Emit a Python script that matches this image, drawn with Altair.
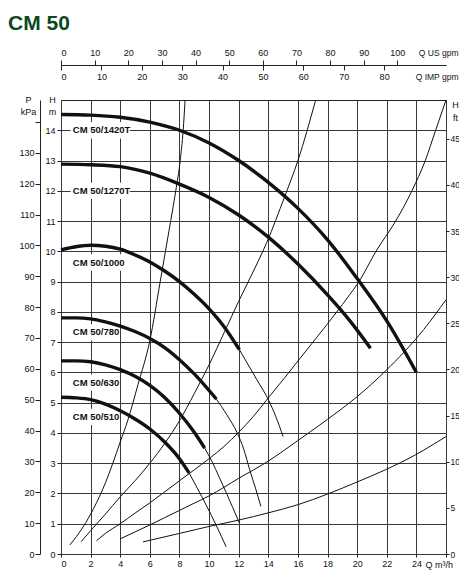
import altair as alt
import pandas as pd

FONT = "Liberation Sans, Arial, sans-serif"
INK = "#111111"
GRID = "#3a3a3a"

# ---------------- data (Q in m3/h, H in m) ----------------
q_1420 = [0, 2, 4, 6, 8, 10, 12, 14, 16, 18, 20, 22, 24]
h_1420 = [14.52, 14.5, 14.43, 14.27, 14.0, 13.58, 13.0, 12.28, 11.42, 10.38, 9.1, 7.7, 6.0]

q_1270 = [0, 2, 4, 6, 8, 10, 12, 14, 16, 18, 19.5, 20.9]
h_1270 = [12.88, 12.86, 12.8, 12.58, 12.22, 11.78, 11.2, 10.47, 9.58, 8.56, 7.71, 6.8]

q_1000 = [0, 1, 2, 3, 4, 5, 6, 7, 8, 9, 10, 11, 12.05]
h_1000 = [10.05, 10.15, 10.2, 10.17, 10.07, 9.88, 9.65, 9.35, 9.0, 8.58, 8.1, 7.52, 6.75]
q_1000_ext = [12.05, 13.2, 14.0, 14.5, 15.0]
h_1000_ext = [6.75, 5.78, 5.1, 4.55, 3.88]

q_780 = [0, 1, 2, 3, 4, 5, 6, 7, 8, 9, 10.49]
h_780 = [7.8, 7.8, 7.77, 7.67, 7.53, 7.35, 7.12, 6.82, 6.42, 5.95, 5.12]
q_780_ext = [10.49, 11.2, 11.9, 12.35, 12.74, 13.15, 13.5]
h_780_ext = [5.12, 4.6, 4.0, 3.45, 2.79, 2.15, 1.57]

q_630 = [0, 1, 2, 3, 4, 5, 6, 7, 8, 9, 9.7]
h_630 = [6.38, 6.38, 6.35, 6.25, 6.09, 5.87, 5.57, 5.17, 4.65, 4.02, 3.5]
q_630_ext = [9.7, 10.2, 10.7, 11.2, 11.6, 12.05]
h_630_ext = [3.5, 3.05, 2.52, 1.98, 1.53, 1.02]

q_510 = [0, 1, 2, 3, 4, 5, 6, 7, 8, 8.65]
h_510 = [5.18, 5.16, 5.1, 4.95, 4.73, 4.46, 4.13, 3.7, 3.15, 2.68]
q_510_ext = [8.65, 9.2, 9.8, 10.5, 11.15]
h_510_ext = [2.68, 2.18, 1.62, 0.93, 0.24]

# system curves
q_sa = [0.6, 1.5, 2.2, 3.0, 3.5, 4.0, 4.5, 5.2, 6.0, 6.7, 7.3, 7.75, 8.05, 8.25, 8.38]
h_sa = [0.3, 0.9, 1.5, 2.35, 3.0, 3.7, 4.4, 5.6, 7.05, 9.0, 10.7, 12.0, 13.0, 14.0, 15.0]
q_sb = [1.36, 2, 3, 4, 5, 6, 7, 8, 9, 10, 11.05, 12, 13, 13.9, 15.1, 16, 17.2]
h_sb = [0.41, 0.77, 1.32, 1.89, 2.42, 3.0, 3.65, 4.4, 5.3, 6.25, 7.35, 8.35, 9.35, 10.3, 11.8, 13.0, 15.0]
q_sc = [2.4, 3, 4, 5, 6, 7, 8, 9, 10, 11, 12, 13, 14, 15.07, 16.2, 17.7, 19.44, 20.1, 21.27, 22.6, 23.7, 24.6, 25.3, 26]
h_sc = [0.44, 0.68, 1.0, 1.35, 1.69, 2.05, 2.42, 2.78, 3.15, 3.55, 4.02, 4.55, 5.16, 5.8, 6.5, 7.42, 8.53, 8.98, 10.0, 11.0, 12.0, 13.0, 14.0, 15.0]
q_sd = [4.0, 5, 6, 7, 8, 9, 10, 12, 14, 16, 18, 20, 21.9, 24.5, 26]
h_sd = [0.5, 0.73, 0.96, 1.2, 1.44, 1.68, 1.92, 2.5, 3.07, 3.75, 4.45, 5.2, 6.04, 7.42, 8.4]
q_se = [5.54, 8, 10, 12, 14, 16, 18, 20, 21.9, 23.95, 26]
h_se = [0.4, 0.68, 0.91, 1.12, 1.36, 1.63, 1.98, 2.38, 2.78, 3.28, 3.88]

# curve labels
label_text = ["CM 50/1420T", "CM 50/1270T", "CM 50/1000", "CM 50/780", "CM 50/630", "CM 50/510"]
label_q = [0.8, 0.8, 0.8, 0.8, 0.8, 0.8]
label_h = [14.0, 12.0, 9.63, 7.32, 5.66, 4.53]

# tick values of the axes
q_ticks = list(range(0, 27, 2))
h_ticks = list(range(0, 15))
kpa_ticks = list(range(0, 150, 10))
ft_ticks = list(range(0, 50, 5))
us_ticks = list(range(0, 101, 10))
imp_ticks = list(range(0, 81, 10))

Q_MAX = 26.0
H_MAX = 15.0

# ---------------- tables ----------------
def rows(name, qs, hs):
    return [{"curve": name, "q": a, "h": b, "i": k} for k, (a, b) in enumerate(zip(qs, hs))]

thick_rows = (rows("1420", q_1420, h_1420) + rows("1270", q_1270, h_1270) +
              rows("1000", q_1000, h_1000) + rows("780", q_780, h_780) +
              rows("630", q_630, h_630) + rows("510", q_510, h_510))
thin_rows = (rows("1000e", q_1000_ext, h_1000_ext) + rows("780e", q_780_ext, h_780_ext) +
             rows("630e", q_630_ext, h_630_ext) + rows("510e", q_510_ext, h_510_ext) +
             rows("sa", q_sa, h_sa) + rows("sb", q_sb, h_sb) + rows("sc", q_sc, h_sc) +
             rows("sd", q_sd, h_sd) + rows("se", q_se, h_se))
df_thick = pd.DataFrame(thick_rows)
df_thin = pd.DataFrame(thin_rows)

df_lab = pd.DataFrame({"text": label_text, "q": label_q, "h": label_h})
df_lab["x0"] = df_lab["q"] - 0.15
df_lab["x1"] = df_lab["q"] + df_lab["text"].str.len() * 0.34 + 0.1
df_lab["y0"] = df_lab["h"] - 0.27
df_lab["y1"] = df_lab["h"] + 0.27


def xs():
    return alt.Scale(domain=[0, Q_MAX], nice=False, zero=False)


def ys():
    return alt.Scale(domain=[0, H_MAX], nice=False, zero=False)


x_axis = alt.Axis(orient="bottom", values=q_ticks, grid=True, gridColor=GRID, gridWidth=1,
                  domain=False, tickSize=3, labelPadding=2,
                  labelExpr="datum.value == 26 ? '' : datum.label",
                  title="Q m³/h", titleX=364, titleY=10, titleAlign="left",
                  titleBaseline="middle", titleAngle=0)
y_axis = alt.Axis(orient="left", values=h_ticks, grid=True, gridColor=GRID, gridWidth=1,
                  domain=False, tickSize=4, labelPadding=2,
                  title=["H", "m"], titleX=-9, titleY=-5, titleAlign="center",
                  titleBaseline="top", titleAngle=0, titleLineHeight=12)

bg = alt.Chart(df_lab).mark_rect(color="white").encode(
    x=alt.X("x0:Q", scale=xs(), axis=x_axis), x2="x1",
    y=alt.Y("y0:Q", scale=ys(), axis=y_axis), y2="y1")

thin = alt.Chart(df_thin).mark_line(interpolate="monotone", strokeWidth=1, color=INK).encode(
    x=alt.X("q:Q", scale=xs(), axis=None), y=alt.Y("h:Q", scale=ys(), axis=None),
    detail="curve:N", order="i:Q")

thick = alt.Chart(df_thick).mark_line(interpolate="monotone", strokeWidth=3.4, color=INK).encode(
    x=alt.X("q:Q", scale=xs(), axis=None), y=alt.Y("h:Q", scale=ys(), axis=None),
    detail="curve:N", order="i:Q")

txt = alt.Chart(df_lab).mark_text(align="left", baseline="middle", font=FONT, fontSize=9.5,
                                  fontWeight="bold", color=INK).encode(
    x=alt.X("q:Q", scale=xs(), axis=None), y=alt.Y("h:Q", scale=ys(), axis=None), text="text:N")

ft_layer = alt.Chart(pd.DataFrame({"ft": ft_ticks})).mark_point(opacity=0).encode(
    y=alt.Y("ft:Q", scale=alt.Scale(domain=[0, H_MAX / 0.3048], nice=False, zero=False),
            axis=alt.Axis(orient="right", values=ft_ticks, grid=False, domain=False, tickSize=3,
                          labelPadding=1, labelFontSize=8.5, title=["H", "ft"], titleX=9,
                          titleY=0, titleAlign="center", titleBaseline="top", titleAngle=0,
                          titleLineHeight=13)))

kpa_layer = alt.Chart(pd.DataFrame({"kpa": kpa_ticks})).mark_point(opacity=0).encode(
    y=alt.Y("kpa:Q", scale=alt.Scale(domain=[0, H_MAX * 9.80665], nice=False, zero=False),
            axis=alt.Axis(orient="left", offset=21, values=kpa_ticks, grid=False, domain=True,
                          tickSize=5, labelPadding=1,
                          labelExpr="datum.value == 140 ? '' : datum.label",
                          title=["P", "kPa"], titleX=-12, titleY=-5, titleAlign="center",
                          titleBaseline="top", titleAngle=0, titleLineHeight=12)))

us_layer = alt.Chart(pd.DataFrame({"us": us_ticks})).mark_point(opacity=0).encode(
    x=alt.X("us:Q", scale=alt.Scale(domain=[0, Q_MAX * 4.402868], nice=False, zero=False),
            axis=alt.Axis(orient="top", offset=35, values=us_ticks, grid=False, domain=True,
                          tickSize=5, labelPadding=3, title="Q US gpm", titleX=397,
                          titleY=-13, titleFontSize=8.5, titleAlign="right",
                          titleBaseline="middle", titleAngle=0)))

imp_layer = alt.Chart(pd.DataFrame({"imp": imp_ticks})).mark_point(opacity=0).encode(
    x=alt.X("imp:Q", scale=alt.Scale(domain=[0, Q_MAX * 3.666154], nice=False, zero=False),
            axis=alt.Axis(orient="bottom", offset=-489, values=imp_ticks, grid=False,
                          domain=False, tickSize=5, labelPadding=2, title="Q IMP gpm",
                          titleX=397, titleY=11, titleFontSize=8.5, titleAlign="right",
                          titleBaseline="middle", titleAngle=0)))

chart = alt.layer(bg, thin, thick, txt, ft_layer, kpa_layer, us_layer, imp_layer).resolve_scale(
    x="independent", y="independent"
).properties(
    width=385, height=454,
    autosize=alt.AutoSizeParams(type="none"),
    padding={"left": 53, "top": 92, "right": 13, "bottom": 22},
    title=alt.TitleParams("CM 50", anchor="start", frame="group", orient="top", dx=-53,
                          offset=14, font=FONT, fontSize=21, fontWeight="bold",
                          color="#0b4a1c"),
).configure_view(
    stroke="#222222", strokeWidth=1
).configure_axis(
    labelFont=FONT, titleFont=FONT, labelFontSize=9, titleFontSize=9,
    labelColor=INK, titleColor=INK, tickColor="#222222", domainColor="#222222",
    titleFontWeight="normal"
)

chart.save("out.html", embed_options={"renderer": "svg", "actions": False})
